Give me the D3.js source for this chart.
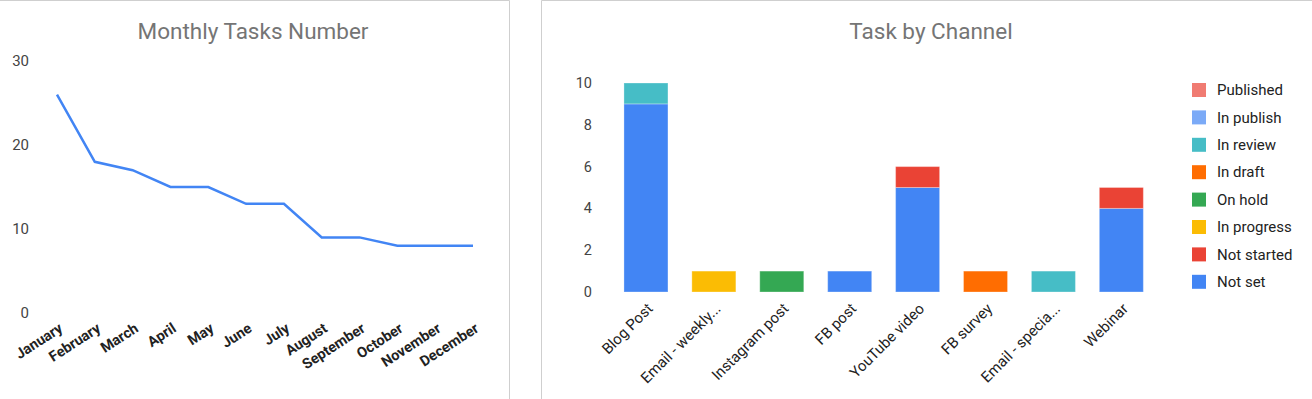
<!DOCTYPE html>
<html>
<head>
<meta charset="utf-8">
<script src="https://cdn.jsdelivr.net/npm/d3@7"></script>
<style>
  body { margin: 0; background: #fff; }
  svg { display: block; font-family: Roboto, "Noto Sans", sans-serif; }
</style>
</head>
<body>
<div id="chart"></div>
<script>
// monthly line chart
const months = ['January', 'February', 'March', 'April', 'May', 'June', 'July',
    'August', 'September', 'October', 'November', 'December'];
const monthlyTasks = [26, 18, 17, 15, 15, 13, 13, 9, 9, 8, 8, 8];
const monthlyTicks = [0, 10, 20, 30];

// stacked bars by channel
const channels = ['Blog Post', 'Email - weekly...', 'Instagram post', 'FB post',
    'YouTube video', 'FB survey', 'Email - specia...', 'Webinar'];
const statuses = ['Not set', 'Not started', 'In progress', 'On hold',
    'In draft', 'In review', 'In publish', 'Published'];
const statusColors = ['#4285f4', '#ea4335', '#fbbc04', '#34a853',
    '#ff6d01', '#46bdc6', '#7baaf7', '#f07b72'];
const notSet = [9, 0, 0, 1, 5, 0, 0, 4];
const notStarted = [0, 0, 0, 0, 1, 0, 0, 1];
const inProgress = [0, 1, 0, 0, 0, 0, 0, 0];
const onHold = [0, 0, 1, 0, 0, 0, 0, 0];
const inDraft = [0, 0, 0, 0, 0, 1, 0, 0];
const inReview = [1, 0, 0, 0, 0, 0, 1, 0];
const inPublish = [0, 0, 0, 0, 0, 0, 0, 0];
const published = [0, 0, 0, 0, 0, 0, 0, 0];
const channelTicks = [0, 2, 4, 6, 8, 10];

const width = 1312;
const height = 399;

const svg = d3.select('#chart')
    .append('svg')
    .attr('width', width)
    .attr('height', height);

// panel borders
const border = svg.append('g')
    .attr('stroke', '#cfcfcf')
    .attr('fill', 'none');
border.append('path').attr('d', `M0,0.5H509.5V${height}`);
border.append('path').attr('d', `M541.5,${height}V0.5H${width}`);

// ---- left: Monthly Tasks Number ----
const left = svg.append('g');

left.append('text')
    .attr('x', 253)
    .attr('y', 39)
    .attr('text-anchor', 'middle')
    .attr('font-size', 22.5)
    .attr('fill', '#757575')
    .text('Monthly Tasks Number');

const xMonth = d3.scalePoint()
    .domain(months)
    .range([57, 473]);

const yMonth = d3.scaleLinear()
    .domain([0, 30])
    .range([313, 61]);

left.append('g')
    .selectAll('text')
    .data(monthlyTicks)
    .join('text')
    .attr('x', 29)
    .attr('y', d => yMonth(d))
    .attr('dy', '0.35em')
    .attr('text-anchor', 'end')
    .attr('font-size', 15)
    .attr('fill', '#444')
    .text(d => d);

left.append('g')
    .selectAll('text')
    .data(months)
    .join('text')
    .attr('transform', d => `translate(${xMonth(d) + 1},322) rotate(-33)`)
    .attr('dy', '0.72em')
    .attr('text-anchor', 'end')
    .attr('font-size', 14.5)
    .attr('font-weight', 'bold')
    .attr('fill', '#222')
    .text(d => d);

const line = d3.line()
    .x((d, i) => xMonth(months[i]))
    .y(d => yMonth(d));

left.append('path')
    .datum(monthlyTasks)
    .attr('fill', 'none')
    .attr('stroke', '#4285f4')
    .attr('stroke-width', 2.5)
    .attr('d', line);

// ---- right: Task by Channel ----
const right = svg.append('g');

right.append('text')
    .attr('x', 931)
    .attr('y', 39)
    .attr('text-anchor', 'middle')
    .attr('font-size', 22.5)
    .attr('fill', '#757575')
    .text('Task by Channel');

const seriesValues = [notSet, notStarted, inProgress, onHold, inDraft, inReview, inPublish, published];
const rows = channels.map((c, i) => {
    const row = { channel: c };
    statuses.forEach((s, k) => { row[s] = seriesValues[k][i]; });
    return row;
});

const stacked = d3.stack().keys(statuses)(rows);

const xChan = d3.scaleBand()
    .domain(channels)
    .range([612, 1155.3])
    .paddingInner(0.352)
    .paddingOuter(0.176);

const yChan = d3.scaleLinear()
    .domain([0, 10])
    .range([292, 83]);

const color = d3.scaleOrdinal()
    .domain(statuses)
    .range(statusColors);

right.append('g')
    .selectAll('text')
    .data(channelTicks)
    .join('text')
    .attr('x', 592)
    .attr('y', d => yChan(d))
    .attr('dy', '0.35em')
    .attr('text-anchor', 'end')
    .attr('font-size', 14.5)
    .attr('fill', '#444')
    .text(d => d);

right.append('g')
    .selectAll('g')
    .data(stacked)
    .join('g')
    .attr('fill', d => color(d.key))
    .selectAll('rect')
    .data(d => d.filter(p => p[1] > p[0]))
    .join('rect')
    .attr('x', d => xChan(d.data.channel))
    .attr('y', d => yChan(d[1]))
    .attr('width', xChan.bandwidth())
    .attr('height', d => yChan(d[0]) - yChan(d[1]))
    .attr('stroke', '#fff')
    .attr('stroke-opacity', 0.3)
    .attr('stroke-width', 1);

right.append('g')
    .selectAll('text')
    .data(channels)
    .join('text')
    .attr('transform', d => `translate(${xChan(d) + xChan.bandwidth() / 2},302) rotate(-45)`)
    .attr('dy', '0.72em')
    .attr('text-anchor', 'end')
    .attr('font-size', 15)
    .attr('fill', '#222')
    .text(d => d);

// legend, top entry is the last status
const legend = right.append('g')
    .selectAll('g')
    .data(statuses.slice().reverse())
    .join('g')
    .attr('transform', (d, i) => `translate(1192,${90 + i * 27.4})`);

legend.append('rect')
    .attr('x', 0)
    .attr('y', -7)
    .attr('width', 14)
    .attr('height', 14)
    .attr('fill', d => color(d));

legend.append('text')
    .attr('x', 25)
    .attr('dy', '0.35em')
    .attr('font-size', 15)
    .attr('fill', '#222')
    .text(d => d);
</script>
</body>
</html>
